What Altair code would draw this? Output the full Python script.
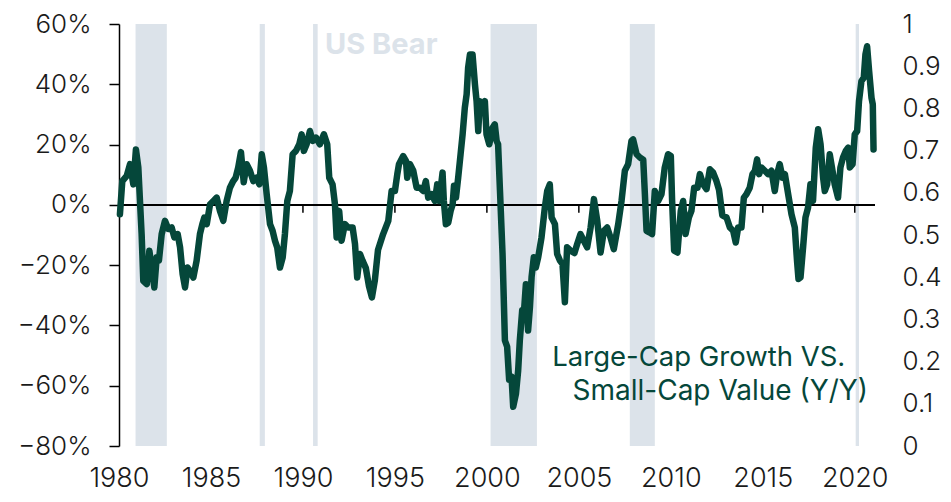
import altair as alt
import pandas as pd

# ---- data ----
years = [
    1980.05, 1980.18, 1980.42, 1980.60, 1980.78, 1980.92, 1981.05, 1981.14, 1981.23, 1981.32,
    1981.51, 1981.65, 1981.78, 1981.92, 1982.05, 1982.17, 1982.32, 1982.50, 1982.68, 1982.86,
    1983.01, 1983.19, 1983.32, 1983.46, 1983.59, 1983.73, 1983.86, 1984.04, 1984.22, 1984.40,
    1984.53, 1984.64, 1984.77, 1984.95, 1985.13, 1985.31, 1985.49, 1985.67, 1985.85, 1986.03,
    1986.21, 1986.34, 1986.48, 1986.63, 1986.78, 1986.94, 1987.12, 1987.30, 1987.48, 1987.63,
    1987.76, 1987.88, 1988.03, 1988.21, 1988.35, 1988.48, 1988.60, 1988.75, 1988.90, 1989.02,
    1989.15, 1989.29, 1989.44, 1989.62, 1989.80, 1989.93, 1990.05, 1990.20, 1990.38, 1990.53,
    1990.71, 1990.92, 1991.14, 1991.32, 1991.43, 1991.61, 1991.74, 1991.83, 1991.97, 1992.10,
    1992.28, 1992.46, 1992.70, 1992.83, 1992.95, 1993.10, 1993.24, 1993.42, 1993.59, 1993.75,
    1993.91, 1994.08, 1994.36, 1994.64, 1994.82, 1995.00, 1995.13, 1995.22, 1995.45, 1995.60,
    1995.67, 1995.82, 1996.00, 1996.18, 1996.36, 1996.54, 1996.68, 1996.81, 1997.00, 1997.17,
    1997.30, 1997.41, 1997.59, 1997.66, 1997.77, 1997.90, 1998.03, 1998.14, 1998.21, 1998.32,
    1998.44, 1998.57, 1998.68, 1998.80, 1998.90, 1998.98, 1999.08, 1999.22, 1999.35, 1999.44,
    1999.53, 1999.62, 1999.77, 1999.89, 1999.98, 2000.13, 2000.31, 2000.43, 2000.53, 2000.61,
    2000.71, 2000.85, 2000.98, 2001.10, 2001.21, 2001.34, 2001.43, 2001.58, 2001.70, 2001.79,
    2001.92, 2002.01, 2002.12, 2002.24, 2002.34, 2002.43, 2002.55, 2002.66, 2002.79, 2002.97,
    2003.15, 2003.28, 2003.42, 2003.52, 2003.70, 2003.82, 2003.97, 2004.11, 2004.24, 2004.36,
    2004.55, 2004.76, 2004.91, 2005.09, 2005.27, 2005.45, 2005.64, 2005.82, 2006.00, 2006.18,
    2006.36, 2006.54, 2006.72, 2006.90, 2007.14, 2007.32, 2007.50, 2007.68, 2007.86, 2007.95,
    2008.14, 2008.32, 2008.50, 2008.59, 2008.68, 2008.86, 2008.98, 2009.13, 2009.31, 2009.49,
    2009.67, 2009.85, 2010.00, 2010.07, 2010.18, 2010.36, 2010.54, 2010.67, 2010.80, 2010.98,
    2011.12, 2011.27, 2011.45, 2011.58, 2011.76, 2011.94, 2012.12, 2012.30, 2012.48, 2012.62,
    2012.80, 2013.03, 2013.21, 2013.39, 2013.53, 2013.66, 2013.84, 2013.97, 2014.11, 2014.29,
    2014.44, 2014.57, 2014.69, 2014.80, 2014.93, 2015.11, 2015.29, 2015.47, 2015.65, 2015.78,
    2015.92, 2016.07, 2016.20, 2016.38, 2016.56, 2016.74, 2016.86, 2016.94, 2017.05, 2017.19,
    2017.32, 2017.46, 2017.59, 2017.73, 2017.88, 2018.01, 2018.14, 2018.28, 2018.37, 2018.50,
    2018.64, 2018.79, 2018.91, 2019.09, 2019.22, 2019.36, 2019.51, 2019.64, 2019.73, 2019.88,
    2020.00, 2020.13, 2020.23, 2020.36, 2020.49, 2020.58, 2020.67, 2020.78, 2020.91, 2020.98,
    2021.02,
]
growth_vs_value_pct = [
    -3.1, 7.9, 9.6, 13.5, 6.8, 18.4, 12.4, 1.3, -9.7, -25.2,
    -26.3, -15.2, -20.8, -27.4, -17.4, -18.5, -9.7, -5.3, -8.0, -7.5,
    -10.8, -9.7, -14.1, -23.0, -27.4, -20.8, -21.9, -24.1, -18.5, -9.7,
    -6.4, -4.2, -6.4, 0.2, 1.3, 2.4, -2.0, -5.3, 1.3, 5.7,
    7.9, 9.0, 12.4, 17.5, 7.5, 13.5, 11.3, 7.9, 9.0, 6.8,
    16.8, 12.4, 3.5, -6.4, -8.6, -11.9, -14.1, -20.8, -17.4, -9.7,
    1.3, 4.6, 16.8, 17.9, 20.1, 23.4, 17.9, 20.1, 24.5, 21.2,
    22.3, 20.1, 23.4, 20.1, 9.0, 6.8, 0.2, -10.8, -2.0, -11.9,
    -6.4, -7.5, -7.5, -13.0, -24.1, -16.3, -18.5, -21.0, -27.0, -30.7,
    -25.0, -15.0, -9.7, -5.3, 4.6, 4.6, 10.2, 13.5, 16.2, 14.6,
    9.0, 13.5, 11.3, 5.7, 5.7, 4.6, 7.9, 2.4, 3.5, 1.3,
    6.8, 1.3, 10.7, 1.3, -6.4, -5.9, -2.0, 0.2, 6.3, 2.4,
    9.0, 16.8, 23.4, 32.2, 36.7, 45.5, 49.9, 49.9, 40.0, 34.4,
    24.5, 34.4, 31.1, 34.4, 23.4, 20.1, 25.6, 26.7, 21.2, 20.1,
    5.0, -16.0, -45.0, -47.0, -58.0, -57.0, -67.0, -62.7, -55.0, -45.0,
    -35.0, -36.0, -26.3, -41.7, -34.0, -24.0, -17.4, -20.8, -17.4, -10.8,
    -0.9, 4.6, 6.8, -4.2, -6.4, -16.3, -18.5, -19.6, -32.3, -14.1,
    -15.2, -16.0, -13.0, -9.7, -11.9, -14.1, -7.5, 1.9, -5.3, -15.8,
    -8.6, -7.5, -10.8, -14.7, -6.4, 1.3, 11.3, 13.5, 21.2, 21.7,
    16.8, 15.7, 15.0, 3.5, -8.6, -9.2, -9.7, 4.6, 1.3, 3.5,
    12.4, 16.8, 16.2, 1.3, -15.2, -15.8, -2.0, 1.3, -9.7, -4.2,
    -2.0, 5.7, 5.7, 10.2, 6.8, 5.2, 11.8, 10.7, 7.9, 5.0,
    -3.5, -4.2, -7.5, -8.6, -12.5, -7.5, -7.5, 2.4, 3.5, 5.7,
    10.2, 11.3, 15.1, 10.2, 12.4, 11.3, 10.2, 11.3, 4.6, 10.2,
    13.5, 9.0, 10.2, 3.5, -3.1, -7.5, -18.5, -24.6, -24.1, -14.1,
    -4.2, -0.9, 6.8, 1.3, 19.0, 25.1, 20.1, 9.0, 4.6, 6.8,
    16.8, 11.3, 6.8, 2.4, 12.4, 15.7, 17.9, 19.0, 12.4, 13.5,
    23.4, 24.5, 34.4, 41.0, 42.2, 49.9, 52.6, 44.4, 35.5, 33.3,
    18.4,
]

bear_start = [1980.90, 1987.65, 1990.55, 2000.20, 2007.77, 2020.05]
bear_end = [1982.60, 1987.93, 1990.80, 2002.72, 2009.13, 2020.23]

x_ticks = [1980, 1985, 1990, 1995, 2000, 2005, 2010, 2015, 2020]
zero_ticks = [1985, 1990, 1995, 2000, 2005, 2010, 2015, 2020]
left_ticks = [-0.8, -0.6, -0.4, -0.2, 0.0, 0.2, 0.4, 0.6]
right_ticks = [0, 0.1, 0.2, 0.3, 0.4, 0.5, 0.6, 0.7, 0.8, 0.9, 1]

series_label_1 = "Large-Cap Growth VS."
series_label_2 = "Small-Cap Value (Y/Y)"
bear_label = "US Bear"

# ---- tables ----
line_df = pd.DataFrame({"year": years, "value": [v / 100 for v in growth_vs_value_pct]})
bear_df = pd.DataFrame({"start": bear_start, "end": bear_end,
                        "flag": [1] * len(bear_start), "base": [0] * len(bear_start)})
tick_df = pd.DataFrame({"year": zero_ticks})
text_df = pd.DataFrame({
    "year": [2011.52, 2012.69],
    "value": [-0.533, -0.649],
    "label": [series_label_1, series_label_2],
    "size": [27.5, 28],
})
bear_text_df = pd.DataFrame({"year": [1991.2], "value": [0.50], "label": [bear_label]})

FONT = "Inter"
GREEN = "#05473a"
BEAR = "#dce3ea"
INK = "#1a1a1a"

xscale = alt.Scale(domain=[1980, 2021.1], nice=False, zero=False)
yscale = alt.Scale(domain=[-0.8, 0.6], nice=False)

x_axis = alt.Axis(values=x_ticks, format="d", domain=False, ticks=False, grid=False,
                  labelFontSize=27, labelColor=INK, labelFont=FONT, labelFontWeight=300,
                  labelPadding=19, labelFlush=False, title=None)

bears = alt.Chart(bear_df).mark_rect(color=BEAR).encode(
    x=alt.X("start:Q", scale=xscale, axis=x_axis),
    x2="end:Q",
    y=alt.Y("flag:Q", scale=alt.Scale(domain=[0, 1], nice=False),
            axis=alt.Axis(orient="right", values=right_ticks, format="~g", domain=False,
                          ticks=False, grid=False, labelFontSize=26, labelColor=INK,
                          labelFont=FONT, labelFontWeight=300, labelPadding=27, title=None)),
    y2="base:Q",
)

zero_rule = alt.Chart(line_df).mark_rule(color="black", strokeWidth=1.5).encode(
    y=alt.datum(0, scale=yscale)
)

zero_tick_marks = alt.Chart(tick_df).mark_rule(color="black", strokeWidth=1.5, y2Offset=8).encode(
    x=alt.X("year:Q", scale=xscale, axis=x_axis),
    y=alt.datum(0, scale=yscale),
    y2=alt.datum(0),
)

y_axis = alt.Axis(orient="left", values=left_ticks, format=".0%", domain=True,
                  domainColor="black", domainWidth=1.5, ticks=True, tickColor="black",
                  tickWidth=1.5, tickSize=10, grid=False, labelFontSize=26,
                  labelColor=INK, labelFont=FONT, labelFontWeight=300,
                  labelPadding=18, title=None)

line = alt.Chart(line_df).mark_line(color=GREEN, strokeWidth=6.5, strokeJoin="round",
                                    strokeCap="round").encode(
    x=alt.X("year:Q", scale=xscale, axis=x_axis),
    y=alt.Y("value:Q", scale=yscale, axis=y_axis),
)

series_text = alt.Chart(text_df).mark_text(color=GREEN, font=FONT, align="center",
                                           baseline="alphabetic").encode(
    x=alt.X("year:Q", scale=xscale, axis=x_axis),
    y=alt.Y("value:Q", scale=yscale, axis=y_axis),
    text="label:N",
    size=alt.Size("size:Q", scale=None, legend=None),
)

bear_text = alt.Chart(bear_text_df).mark_text(color=BEAR, font=FONT, fontSize=29, fontWeight="bold",
                                              align="left", baseline="alphabetic").encode(
    x=alt.X("year:Q", scale=xscale, axis=x_axis),
    y=alt.Y("value:Q", scale=yscale, axis=y_axis),
    text="label:N",
)

main = alt.layer(zero_rule, zero_tick_marks, line, series_text, bear_text)

chart = alt.layer(bears, main).resolve_scale(y="independent").properties(
    width=756, height=422,
    autosize=alt.AutoSizeParams(type="none"),
    padding={"left": 111, "top": 16, "right": 68, "bottom": 48},
).configure_view(stroke=None)

chart.save("out.html", embed_options={"renderer": "svg", "actions": False})
